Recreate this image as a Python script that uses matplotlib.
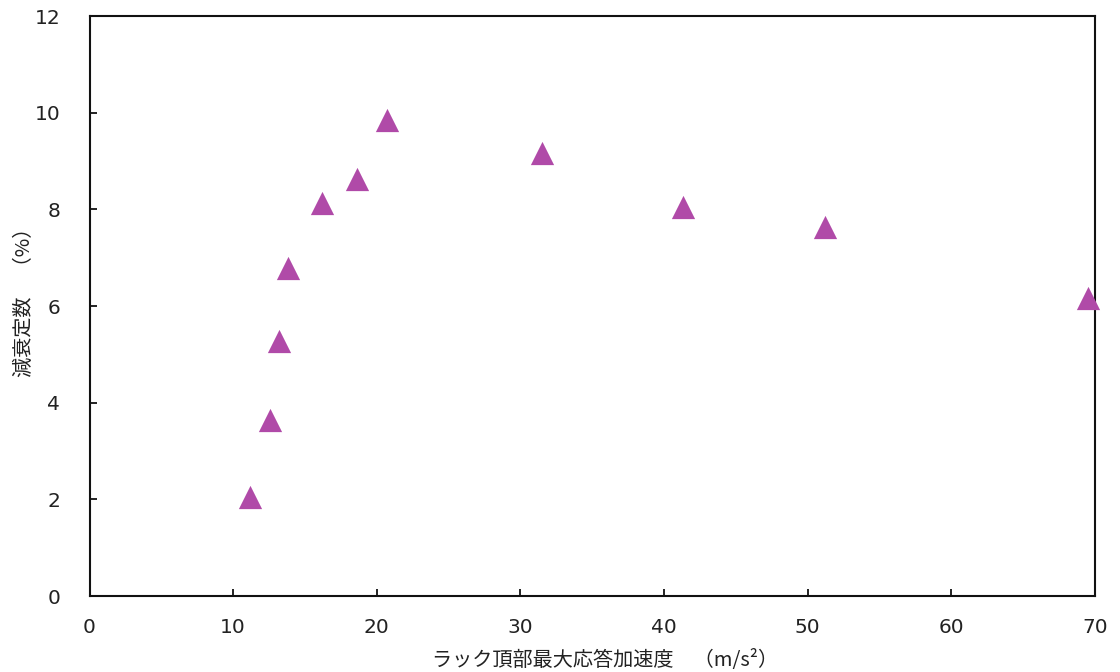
import matplotlib
matplotlib.use("Agg")
import matplotlib.pyplot as plt

plt.rcParams['font.family'] = ['Noto Sans CJK JP', 'DejaVu Sans']

accel = [11.2, 12.6, 13.2, 13.8, 16.2, 18.6, 20.7, 31.5, 41.3, 51.2, 69.5]
damping = [2.04, 3.65, 5.27, 6.78, 8.13, 8.62, 9.84, 9.17, 8.04, 7.63, 6.16]
xticks = [0, 10, 20, 30, 40, 50, 60, 70]
yticks = [0, 2, 4, 6, 8, 10, 12]
xlabel = 'ラック頂部最大応答加速度\u3000（m/s²）'
ylabel = '減衰定数\u3000（%）'

fig = plt.figure(figsize=(11.2, 6.72), dpi=100)
ax = fig.add_axes([89.5/1120, 1-596/672, (1095-89.5)/1120, (596-16)/672])
ax.scatter(accel, damping, marker='^', s=280, color='#B04AA8', linewidths=0, zorder=3, clip_on=False)
ax.set_xlim(0, 70)
ax.set_ylim(0, 12)
ax.set_xticks(xticks)
ax.set_yticks(yticks)
ax.set_xticklabels([str(v) for v in xticks], family='DejaVu Sans')
ax.set_yticklabels([str(v) for v in yticks], family='DejaVu Sans')
ax.tick_params(direction='in', length=5, width=1.3, color='#111111',
               labelsize=14.5, labelcolor='#222222')
ax.tick_params(axis='x', pad=16)
ax.tick_params(axis='y', pad=21)
for s in ax.spines.values():
    s.set_linewidth(1.5)
    s.set_color('#111111')
ax.set_xlabel(xlabel, fontsize=14.5, color='#222222')
ax.set_ylabel(ylabel, fontsize=14.5, color='#222222')
ax.xaxis.set_label_coords(0.513, -0.093)
ax.yaxis.set_label_coords(-0.054, 0.515)
fig.savefig('out.png', dpi=100)
